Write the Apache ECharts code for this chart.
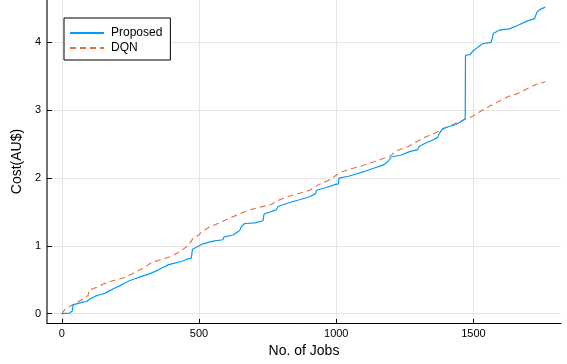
<!DOCTYPE html>
<html>
<head>
<meta charset="utf-8">
<script src="https://cdn.jsdelivr.net/npm/echarts@6/dist/echarts.min.js"></script>
<style>
  html, body { margin: 0; padding: 0; background: #fff; }
  #chart { width: 567px; height: 364px; }
</style>
</head>
<body>
<div id="chart"></div>
<script>
// Cumulative cost per number of completed jobs
const proposedJobs = [0, 29, 38, 41, 47, 72, 90, 102, 120, 138, 157, 175, 193, 211, 229, 248, 266, 290, 314, 339, 363, 387, 411, 436, 454, 472, 475, 476, 496, 514, 551, 587, 590, 624, 648, 654, 666, 703, 733, 737, 781, 788, 830, 866, 903, 925, 928, 964, 1000, 1008, 1010, 1048, 1073, 1097, 1133, 1170, 1188, 1200, 1237, 1267, 1297, 1303, 1328, 1352, 1370, 1376, 1388, 1412, 1437, 1461, 1470, 1471, 1488, 1497, 1516, 1534, 1564, 1568, 1572, 1594, 1631, 1661, 1692, 1722, 1727, 1732, 1740, 1762];
const proposedCost = [0, 0.01, 0.04, 0.13, 0.147, 0.166, 0.18, 0.216, 0.255, 0.28, 0.30, 0.34, 0.38, 0.41, 0.45, 0.49, 0.515, 0.55, 0.58, 0.62, 0.67, 0.72, 0.745, 0.77, 0.80, 0.82, 0.82, 0.95, 0.99, 1.03, 1.07, 1.09, 1.13, 1.16, 1.225, 1.28, 1.33, 1.34, 1.37, 1.47, 1.53, 1.58, 1.64, 1.68, 1.725, 1.77, 1.82, 1.86, 1.91, 1.91, 2.0, 2.03, 2.06, 2.09, 2.14, 2.19, 2.24, 2.31, 2.34, 2.39, 2.42, 2.47, 2.52, 2.56, 2.60, 2.66, 2.73, 2.76, 2.79, 2.85, 2.88, 3.81, 3.82, 3.87, 3.93, 3.98, 4.00, 4.05, 4.13, 4.18, 4.20, 4.25, 4.31, 4.35, 4.40, 4.45, 4.48, 4.52];

const dqnJobs = [0, 11, 23, 35, 66, 96, 100, 116, 153, 189, 226, 262, 296, 329, 365, 402, 436, 462, 478, 499, 508, 539, 575, 612, 648, 684, 721, 763, 794, 830, 866, 903, 939, 969, 1000, 1012, 1048, 1085, 1121, 1158, 1194, 1224, 1261, 1291, 1328, 1358, 1394, 1425, 1461, 1497, 1522, 1558, 1588, 1625, 1661, 1697, 1728, 1762];
const dqnCost = [0, 0.06, 0.09, 0.12, 0.19, 0.27, 0.35, 0.37, 0.44, 0.49, 0.53, 0.60, 0.67, 0.76, 0.80, 0.85, 0.93, 1.01, 1.11, 1.16, 1.20, 1.28, 1.34, 1.41, 1.47, 1.53, 1.57, 1.61, 1.68, 1.735, 1.775, 1.82, 1.91, 1.96, 2.04, 2.08, 2.13, 2.17, 2.22, 2.27, 2.32, 2.41, 2.46, 2.53, 2.61, 2.66, 2.73, 2.79, 2.85, 2.91, 2.975, 3.06, 3.12, 3.20, 3.245, 3.32, 3.38, 3.42];

const xTicks = [0, 500, 1000, 1500];
const yTicks = [0, 1, 2, 3, 4];

const zip = (xs, ys) => xs.map((x, i) => [x, ys[i]]);

const FONT = 'Liberation Sans, Arial, sans-serif';
const chart = echarts.init(document.getElementById('chart'), null, { renderer: 'canvas' });

chart.setOption({
  animation: false,
  backgroundColor: '#ffffff',
  textStyle: { fontFamily: FONT },
  grid: { left: 47, right: 6, top: 0, bottom: 41, containLabel: false, outerBoundsMode: 'none' },
  legend: {
    left: 64, top: 18,
    orient: 'vertical',
    padding: [9, 8, 6, 5],
    itemGap: 3,
    itemWidth: 34,
    itemHeight: 14,
    backgroundColor: '#ffffff',
    borderColor: '#000000',
    borderWidth: 1,
    borderRadius: 0,
    itemStyle: { color: 'transparent', borderColor: 'transparent', borderWidth: 0 },
    textStyle: { fontFamily: FONT, fontSize: 12, color: '#000000', padding: [0, 0, 0, 2] },
    data: ['Proposed', 'DQN']
  },
  xAxis: {
    type: 'value',
    min: -54, max: 1819,
    name: 'No. of Jobs',
    nameLocation: 'middle',
    nameGap: 21,
    nameTextStyle: { fontFamily: FONT, fontSize: 14, color: '#000000' },
    axisLine: { show: true, onZero: false, lineStyle: { color: '#000000', width: 1 } },
    axisTick: { show: true, inside: true, length: 4, customValues: xTicks, lineStyle: { color: '#000000' } },
    axisLabel: { customValues: xTicks, margin: 5, fontSize: 11, color: '#000000', fontFamily: FONT,
      formatter: v => String(v) },
    splitLine: { show: true, lineStyle: { color: '#e5e5e5', width: 1 } }
  },
  yAxis: {
    type: 'value',
    min: -0.137, max: 4.625,
    name: 'Cost(AU$)',
    nameLocation: 'middle',
    nameGap: 19,
    nameTextStyle: { fontFamily: FONT, fontSize: 14, color: '#000000' },
    axisLine: { show: true, onZero: false, lineStyle: { color: '#444444', width: 1.5 } },
    axisTick: { show: true, inside: true, length: 5, customValues: yTicks, lineStyle: { color: '#000000' } },
    axisLabel: { customValues: yTicks, margin: 6, fontSize: 11, color: '#000000', fontFamily: FONT,
      formatter: v => String(v) },
    splitLine: { show: true, lineStyle: { color: '#e5e5e5', width: 1 } }
  },
  series: [
    {
      name: 'Proposed',
      type: 'line',
      data: zip(proposedJobs, proposedCost),
      showSymbol: false,
      symbol: 'none',
      lineStyle: { color: '#009AFA', width: 1.2 },
      itemStyle: { color: '#009AFA' },
      z: 3
    },
    {
      name: 'DQN',
      type: 'line',
      data: zip(dqnJobs, dqnCost),
      showSymbol: false,
      symbol: 'none',
      lineStyle: { color: '#E26F46', width: 1.1, type: [6, 4] },
      itemStyle: { color: '#E26F46' },
      z: 2
    }
  ]
});
</script>
</body>
</html>
